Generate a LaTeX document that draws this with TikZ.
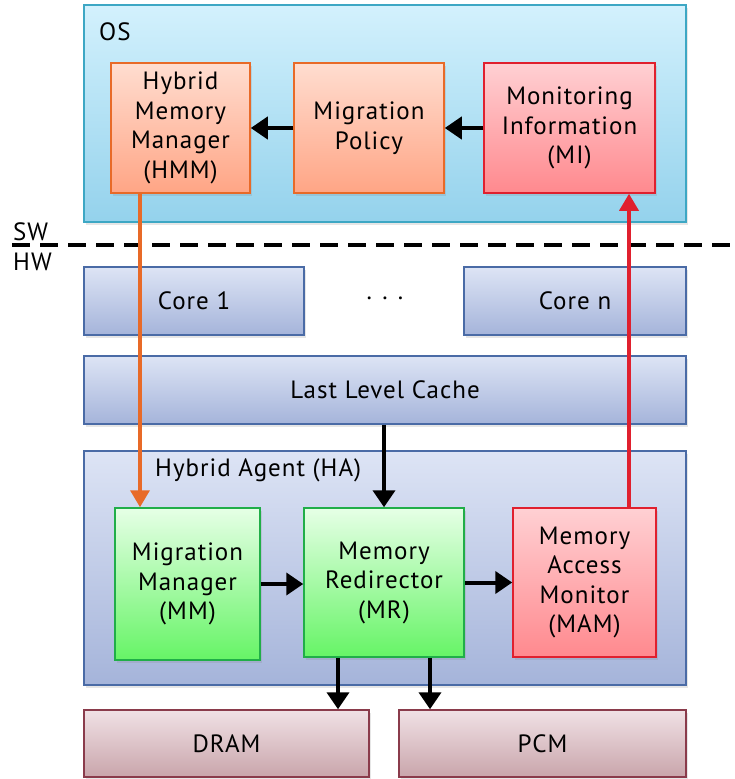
\documentclass[tikz,border=0pt]{standalone}
\usepackage{fontspec}
\setmainfont{PT Sans}[LetterSpace=4]
\usetikzlibrary{arrows.meta,shadows}

\definecolor{osline}{HTML}{3DA7C4}
\definecolor{ostop}{HTML}{D3F1FD}
\definecolor{osbot}{HTML}{94D2EC}
\definecolor{orline}{HTML}{E86A28}
\definecolor{ortop}{HTML}{FFDDD0}
\definecolor{orbot}{HTML}{FFA585}
\definecolor{rdline}{HTML}{E0202E}
\definecolor{rdtop}{HTML}{FFD0D3}
\definecolor{rdbot}{HTML}{FF898E}
\definecolor{blline}{HTML}{4A6BA6}
\definecolor{bltop}{HTML}{DDE4F5}
\definecolor{blbot}{HTML}{A5B4DA}
\definecolor{grline}{HTML}{20AE48}
\definecolor{grtop}{HTML}{E6FFE6}
\definecolor{grbot}{HTML}{66F466}
\definecolor{mmline}{HTML}{8A3B4B}
\definecolor{mmtop}{HTML}{F0E1E5}
\definecolor{mmbot}{HTML}{C9A5AB}

\tikzset{
  box/.style={draw, line width=1.5pt, align=center, inner sep=0pt,
    font=\fontsize{25}{29.5}\selectfont,
    drop shadow={opacity=0.2, shadow xshift=2pt, shadow yshift=-3pt}},
  osbox/.style={box, draw=osline, top color=ostop, bottom color=osbot},
  orbox/.style={box, draw=orline, top color=ortop, bottom color=orbot},
  rdbox/.style={box, draw=rdline, top color=rdtop, bottom color=rdbot},
  blbox/.style={box, draw=blline, top color=bltop, bottom color=blbot},
  grbox/.style={box, draw=grline, top color=grtop, bottom color=grbot},
  membox/.style={box, draw=mmline, top color=mmtop, bottom color=mmbot},
  label/.style={font=\fontsize{25}{29}\selectfont, inner sep=0pt},
  flow/.style={line width=4pt, -{Triangle[length=17pt,width=22pt]}},
  swarrow/.style={line width=3.5pt, -{Triangle[length=17pt,width=19pt]}},
}

\begin{document}
\begin{tikzpicture}[x=1pt,y=-1pt]
  \useasboundingbox (0,0) rectangle (735,779);

  % software side
  \node[osbox, minimum width=602, minimum height=217] (os) at (385,113.5) {};
  \node[label, anchor=west] (oslabel) at (99,32) {OS};
  \node[orbox, minimum width=139, minimum height=130] (hmm) at (180.5,128)
    {Hybrid\\Memory\\Manager\\(HMM)};
  \node[orbox, minimum width=150, minimum height=130] (mp) at (369,128)
    {Migration\\Policy};
  \node[rdbox, minimum width=171, minimum height=130] (mi) at (569.5,128)
    {Monitoring\\Information\\(MI)};

  \draw[flow] (mp.west) -- (hmm.east);
  \draw[flow] (mi.west) -- (mp.east);

  % boundary
  \draw[line width=4pt, dash pattern=on 18pt off 10pt] (12,245) -- (735,245);
  \node[label, anchor=south west] (sw) at (13,241) {SW};
  \node[label, anchor=north west] (hw) at (13,253) {HW};

  % hardware side
  \node[blbox, minimum width=220, minimum height=68] (core1) at (194,301) {Core 1};
  \node[blbox, minimum width=222, minimum height=68] (coren) at (575,301) {Core n};
  \node[label] (dots) at (385,298) {. . .};
  \node[blbox, minimum width=602, minimum height=68] (llc) at (385,390) {Last Level Cache};

  \node[blbox, minimum width=602, minimum height=234] (ha) at (385,568) {};
  \node[label, anchor=west] (halabel) at (155,470) {Hybrid Agent (HA)};
  \node[grbox, minimum width=145, minimum height=152] (mm) at (187.5,584)
    {Migration\\Manager\\(MM)};
  \node[grbox, minimum width=160, minimum height=149] (mr) at (384,582.5)
    {Memory\\Redirector\\(MR)};
  \node[rdbox, minimum width=143, minimum height=149] (mam) at (584.5,582.5)
    {Memory\\Access\\Monitor\\(MAM)};

  \node[membox, minimum width=285, minimum height=67] (dram) at (226.5,743.5) {DRAM};
  \node[membox, minimum width=287, minimum height=67] (pcm) at (542.5,743.5) {PCM};

  \coordinate (hmmdown) at (140,0);
  \coordinate (mamup) at (629,0);
  \coordinate (dramdown) at (338,0);
  \coordinate (pcmdown) at (430,0);

  \draw[swarrow, draw=orline, fill=orline] (hmm.south -| hmmdown) -- (mm.north -| hmmdown);
  \draw[swarrow, draw=rdline, fill=rdline] (mam.north -| mamup) -- (mi.south -| mamup);
  \draw[flow] (llc.south -| mr.north) -- (mr.north);
  \draw[flow] (mm.east) -- (mm.east -| mr.west);
  \draw[flow] (mr.east) -- (mr.east -| mam.west);
  \draw[flow] (mr.south -| dramdown) -- (dram.north -| dramdown);
  \draw[flow] (mr.south -| pcmdown) -- (pcm.north -| pcmdown);
\end{tikzpicture}
\end{document}
